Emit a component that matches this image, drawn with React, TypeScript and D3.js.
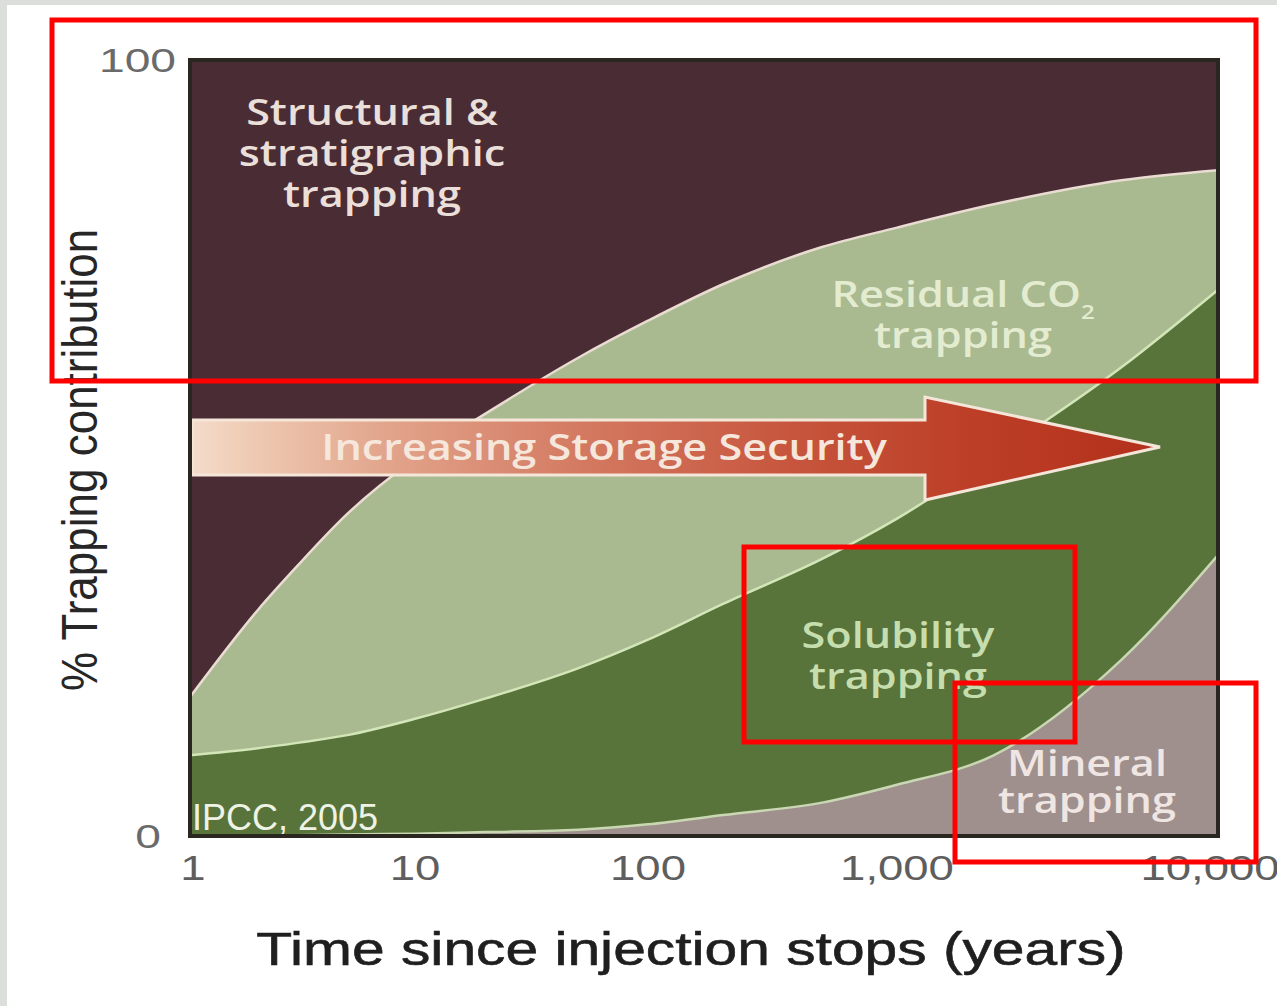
import React, { useRef, useEffect } from 'react';
import * as d3 from 'd3';

// time since injection stops (years) – sample points
const years = [1, 2, 3, 5, 10, 20, 50, 100, 200, 500, 1000, 2000, 5000, 10000];

// % contribution of each trapping mechanism (stacked, bottom to top)
const mineral = [0, 0, 0.1, 0.2, 0.3, 0.5, 0.8, 1.5, 2.7, 4.3, 6.6, 10.4, 22.7, 36.2];
const solubility = [10.4, 11.3, 11.9, 12.8, 14.8, 17.2, 20.8, 23.8, 27.2, 31.4, 34.3, 38.6, 37.7, 34.2];
const residual = [7.5, 17.8, 22.8, 28.5, 33.5, 36.7, 40.0, 41.1, 41.2, 40.2, 37.5, 32.4, 24.1, 15.4];
const structural = [82.1, 70.9, 65.2, 58.5, 51.4, 45.6, 38.4, 33.6, 28.9, 24.1, 21.6, 18.6, 15.5, 14.2];

const xTicks = [1, 10, 100, 1000, 10000];
const xTickLabels = ['1', '10', '100', '1,000', '10,000'];
const yTicks = [0, 100];

const keys = ['mineral', 'solubility', 'residual', 'structural'];
const fills: Record<string, string> = {
  mineral: '#9f8f8d',
  solubility: '#58743b',
  residual: '#aaba90',
  structural: '#4a2d34',
};
const edges: Record<string, string> = {
  mineral: '#c9d8b2',
  solubility: '#d2e6b8',
  residual: '#eadcd3',
};

const W = 1277;
const H = 1006;

const App = () => {
  const ref = useRef<SVGSVGElement | null>(null);

  useEffect(() => {
    if (!ref.current) return;
    const svg = d3.select(ref.current);
    svg.selectAll('*').remove();

    const left = 190, right = 1218, top = 60, bottom = 836;

    // the original axis is an uneven log axis, so map decades piecewise
    const x = d3.scaleLinear()
      .domain(xTicks.map(Math.log10))
      .range([left, 415, 648, 897, right]);
    const y = d3.scaleLinear().domain([0, 100]).range([bottom, top]);

    const rows = years.map((yr, i) => ({
      year: yr,
      mineral: mineral[i],
      solubility: solubility[i],
      residual: residual[i],
      structural: structural[i],
    }));
    const series = d3.stack<any>().keys(keys)(rows);

    // page background
    svg.append('rect').attr('width', W).attr('height', H).attr('fill', '#ffffff');
    svg.append('rect').attr('width', 7).attr('height', H).attr('fill', '#dcdedb');
    svg.append('rect').attr('width', W).attr('height', 5).attr('fill', '#dcdedb');

    const defs = svg.append('defs');
    const grad = defs.append('linearGradient')
      .attr('id', 'arrowGrad')
      .attr('gradientUnits', 'userSpaceOnUse')
      .attr('x1', left).attr('x2', 1160).attr('y1', 0).attr('y2', 0);
    [
      [0, '#f4dccb'],
      [0.06, '#efcbb4'],
      [0.2, '#e2a58c'],
      [0.4, '#d47a62'],
      [0.62, '#c7553d'],
      [0.8, '#bd3f27'],
      [1, '#b3301a'],
    ].forEach(([o, c]) => grad.append('stop').attr('offset', o as number).attr('stop-color', c as string));

    const area = d3.area<any>()
      .x((d) => x(Math.log10(d.data.year)))
      .y0((d) => y(d[0]))
      .y1((d) => y(d[1]))
      .curve(d3.curveMonotoneX);

    svg.append('g')
      .selectAll('path')
      .data(series)
      .enter()
      .append('path')
      .attr('d', (s: any) => area(s))
      .attr('fill', (s: any) => fills[s.key]);

    const edge = d3.line<any>()
      .x((d) => x(Math.log10(d.data.year)))
      .y((d) => y(d[1]))
      .curve(d3.curveMonotoneX);

    svg.append('g')
      .selectAll('path')
      .data(series.filter((s: any) => edges[s.key]))
      .enter()
      .append('path')
      .attr('d', (s: any) => edge(s))
      .attr('fill', 'none')
      .attr('stroke', (s: any) => edges[s.key])
      .attr('stroke-width', 2.5);

    // storage security arrow
    const arrow = [
      [left + 2, 420], [925, 420], [925, 397], [1160, 447],
      [925, 500], [925, 475], [left + 2, 475],
    ];
    svg.append('path')
      .attr('d', d3.line()(arrow as [number, number][]) + 'Z')
      .attr('fill', 'url(#arrowGrad)')
      .attr('stroke', '#f5e6da')
      .attr('stroke-width', 3)
      .attr('stroke-linejoin', 'miter');

    // region labels, stretched a little to match the wide original lettering
    const label = (lines: string[], cx: number, y0: number, color: string, gap = 41) => {
      const t = svg.append('text')
        .attr('transform', `translate(${cx},0) scale(1.2,1)`)
        .attr('text-anchor', 'middle')
        .attr('font-family', "'Open Sans', sans-serif")
        .attr('font-weight', 600)
        .attr('font-size', 36)
        .attr('fill', color);
      lines.forEach((l, i) => {
        t.append('tspan').attr('x', 0).attr('y', y0 + i * gap).text(l);
      });
      return t;
    };

    label(['Structural &', 'stratigraphic', 'trapping'], 372, 125, '#eadfd9');

    const res = label(['Residual CO', 'trapping'], 963, 307, '#e3ecd1');
    res.select('tspan').append('tspan')
      .attr('font-size', 20)
      .attr('dy', 12)
      .text('2');

    label(['Increasing Storage Security'], 604, 460, '#f6e7dc');
    label(['Solubility', 'trapping'], 898, 648, '#c6ddae');
    label(['Mineral', 'trapping'], 1087, 776, '#efe5e2', 37);

    svg.append('text')
      .attr('x', 192)
      .attr('y', 830)
      .attr('font-family', "'Liberation Sans', Arial, sans-serif")
      .attr('font-size', 36)
      .attr('fill', '#eef3e6')
      .text('IPCC, 2005');

    // plot frame
    svg.append('rect')
      .attr('x', left)
      .attr('y', top)
      .attr('width', right - left)
      .attr('height', bottom - top)
      .attr('fill', 'none')
      .attr('stroke', '#29271f')
      .attr('stroke-width', 4);

    // x tick labels
    svg.append('g')
      .selectAll('text')
      .data(xTicks)
      .enter()
      .append('text')
      .attr('transform', (d, i) => `translate(${x(Math.log10(d)) + (i === 0 ? 3 : i === 4 ? -8 : 0)},880) scale(1.3,1)`)
      .attr('text-anchor', 'middle')
      .attr('font-family', "'Liberation Sans', Arial, sans-serif")
      .attr('font-size', 35)
      .attr('fill', '#5e5e5e')
      .text((d, i) => xTickLabels[i]);

    // y tick labels
    svg.append('g')
      .selectAll('text')
      .data(yTicks)
      .enter()
      .append('text')
      .attr('transform', (d) => `translate(${d === 0 ? 161 : 176},${y(d) + 12}) scale(1.4,1)`)
      .attr('text-anchor', 'end')
      .attr('font-family', "'Liberation Sans', Arial, sans-serif")
      .attr('font-size', 33)
      .attr('fill', '#6a6a6a')
      .text((d) => d);

    // axis titles
    svg.append('text')
      .attr('transform', 'translate(691,965) scale(1.25,1)')
      .attr('text-anchor', 'middle')
      .attr('font-family', "'Liberation Sans', Arial, sans-serif")
      .attr('font-size', 47)
      .attr('fill', '#1f1f1f')
      .attr('stroke', '#1f1f1f')
      .attr('stroke-width', 0.6)
      .text('Time since injection stops (years)');

    svg.append('text')
      .attr('transform', 'translate(97,460) rotate(-90) scale(1,1.15)')
      .attr('text-anchor', 'middle')
      .attr('font-family', "'Liberation Sans', Arial, sans-serif")
      .attr('font-size', 44)
      .attr('fill', '#262626')
      .text('% Trapping contribution');

    // red highlight boxes
    const boxes = [
      [52, 20, 1256, 381],
      [744, 547, 1075, 742],
      [955, 683, 1256, 862],
    ];
    svg.append('g')
      .selectAll('rect')
      .data(boxes)
      .enter()
      .append('rect')
      .attr('x', (b) => b[0])
      .attr('y', (b) => b[1])
      .attr('width', (b) => b[2] - b[0])
      .attr('height', (b) => b[3] - b[1])
      .attr('fill', 'none')
      .attr('stroke', '#ff0000')
      .attr('stroke-width', 5);
  }, []);

  return (
    <svg
      ref={ref}
      width={W}
      height={H}
      style={{ position: 'absolute', left: 0, top: 0, display: 'block' }}
    />
  );
};

export default App;
